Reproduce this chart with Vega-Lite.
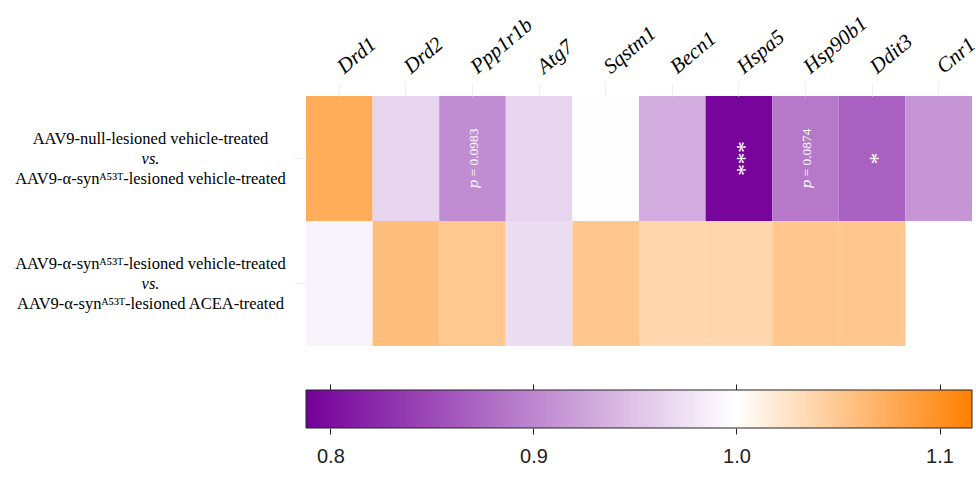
{
  "$schema": "https://vega.github.io/schema/vega-lite/v6.json",
  "background": "white",
  "padding": {"left": 14, "top": 12, "right": 5, "bottom": 5},
  "spacing": 37,
  "datasets": {
    "cells": [
      {"gene": "Drd1", "comparison": "AAV9-null-lesioned vehicle-treated|AAV9-α-synᴬ⁵³ᵀ-lesioned vehicle-treated", "ratio": 1.075},
      {"gene": "Drd2", "comparison": "AAV9-null-lesioned vehicle-treated|AAV9-α-synᴬ⁵³ᵀ-lesioned vehicle-treated", "ratio": 0.964},
      {"gene": "Ppp1r1b", "comparison": "AAV9-null-lesioned vehicle-treated|AAV9-α-synᴬ⁵³ᵀ-lesioned vehicle-treated", "ratio": 0.905},
      {"gene": "Atg7", "comparison": "AAV9-null-lesioned vehicle-treated|AAV9-α-synᴬ⁵³ᵀ-lesioned vehicle-treated", "ratio": 0.964},
      {"gene": "Sqstm1", "comparison": "AAV9-null-lesioned vehicle-treated|AAV9-α-synᴬ⁵³ᵀ-lesioned vehicle-treated", "ratio": 0.998},
      {"gene": "Becn1", "comparison": "AAV9-null-lesioned vehicle-treated|AAV9-α-synᴬ⁵³ᵀ-lesioned vehicle-treated", "ratio": 0.931},
      {"gene": "Hspa5", "comparison": "AAV9-null-lesioned vehicle-treated|AAV9-α-synᴬ⁵³ᵀ-lesioned vehicle-treated", "ratio": 0.792},
      {"gene": "Hsp90b1", "comparison": "AAV9-null-lesioned vehicle-treated|AAV9-α-synᴬ⁵³ᵀ-lesioned vehicle-treated", "ratio": 0.889},
      {"gene": "Ddit3", "comparison": "AAV9-null-lesioned vehicle-treated|AAV9-α-synᴬ⁵³ᵀ-lesioned vehicle-treated", "ratio": 0.869},
      {"gene": "Cnr1", "comparison": "AAV9-null-lesioned vehicle-treated|AAV9-α-synᴬ⁵³ᵀ-lesioned vehicle-treated", "ratio": 0.912},
      {"gene": "Drd1", "comparison": "AAV9-α-synᴬ⁵³ᵀ-lesioned vehicle-treated|AAV9-α-synᴬ⁵³ᵀ-lesioned ACEA-treated", "ratio": 0.991},
      {"gene": "Drd2", "comparison": "AAV9-α-synᴬ⁵³ᵀ-lesioned vehicle-treated|AAV9-α-synᴬ⁵³ᵀ-lesioned ACEA-treated", "ratio": 1.059},
      {"gene": "Ppp1r1b", "comparison": "AAV9-α-synᴬ⁵³ᵀ-lesioned vehicle-treated|AAV9-α-synᴬ⁵³ᵀ-lesioned ACEA-treated", "ratio": 1.05},
      {"gene": "Atg7", "comparison": "AAV9-α-synᴬ⁵³ᵀ-lesioned vehicle-treated|AAV9-α-synᴬ⁵³ᵀ-lesioned ACEA-treated", "ratio": 0.972},
      {"gene": "Sqstm1", "comparison": "AAV9-α-synᴬ⁵³ᵀ-lesioned vehicle-treated|AAV9-α-synᴬ⁵³ᵀ-lesioned ACEA-treated", "ratio": 1.052},
      {"gene": "Becn1", "comparison": "AAV9-α-synᴬ⁵³ᵀ-lesioned vehicle-treated|AAV9-α-synᴬ⁵³ᵀ-lesioned ACEA-treated", "ratio": 1.037},
      {"gene": "Hspa5", "comparison": "AAV9-α-synᴬ⁵³ᵀ-lesioned vehicle-treated|AAV9-α-synᴬ⁵³ᵀ-lesioned ACEA-treated", "ratio": 1.037},
      {"gene": "Hsp90b1", "comparison": "AAV9-α-synᴬ⁵³ᵀ-lesioned vehicle-treated|AAV9-α-synᴬ⁵³ᵀ-lesioned ACEA-treated", "ratio": 1.052},
      {"gene": "Ddit3", "comparison": "AAV9-α-synᴬ⁵³ᵀ-lesioned vehicle-treated|AAV9-α-synᴬ⁵³ᵀ-lesioned ACEA-treated", "ratio": 1.052}
    ],
    "pvals": [
      {"gene": "Ppp1r1b", "comparison": "AAV9-null-lesioned vehicle-treated|AAV9-α-synᴬ⁵³ᵀ-lesioned vehicle-treated", "note": "𝑝 = 0.0983"},
      {"gene": "Hsp90b1", "comparison": "AAV9-null-lesioned vehicle-treated|AAV9-α-synᴬ⁵³ᵀ-lesioned vehicle-treated", "note": "𝑝 = 0.0874"}
    ],
    "stars": [
      {"gene": "Hspa5", "comparison": "AAV9-null-lesioned vehicle-treated|AAV9-α-synᴬ⁵³ᵀ-lesioned vehicle-treated", "note": "***"},
      {"gene": "Ddit3", "comparison": "AAV9-null-lesioned vehicle-treated|AAV9-α-synᴬ⁵³ᵀ-lesioned vehicle-treated", "note": "*"}
    ],
    "bar": [{"lo": 0.788, "hi": 1.116}]
  },
  "config": {"view": {"stroke": null}},
  "vconcat": [
    {
      "width": 666,
      "height": 250,
      "resolve": {"axis": {"y": "independent"}},
      "encoding": {
        "x": {
          "field": "gene", "type": "nominal",
          "sort": ["Drd1", "Drd2", "Ppp1r1b", "Atg7", "Sqstm1", "Becn1", "Hspa5", "Hsp90b1", "Ddit3", "Cnr1"],
          "scale": {"paddingInner": 0, "paddingOuter": 0},
          "axis": {
            "orient": "top", "title": null, "domain": false,
            "tickColor": "#eeeeee", "tickSize": 13,
            "labelAngle": -40, "labelAlign": "left", "labelBaseline": "alphabetic",
            "labelPadding": 9, "labelOffset": 5,
            "labelFont": "Liberation Serif, DejaVu Serif", "labelFontStyle": "italic",
            "labelFontSize": 21, "labelColor": "#000000"
          }
        }
      },
      "layer": [
        {
          "data": {"name": "cells"},
          "mark": {"type": "rect"},
          "encoding": {
            "y": {
              "field": "comparison", "type": "nominal",
              "sort": ["AAV9-null-lesioned vehicle-treated|AAV9-α-synᴬ⁵³ᵀ-lesioned vehicle-treated", "AAV9-α-synᴬ⁵³ᵀ-lesioned vehicle-treated|AAV9-α-synᴬ⁵³ᵀ-lesioned ACEA-treated"],
              "scale": {"paddingInner": 0, "paddingOuter": 0},
              "axis": {
                "orient": "left", "title": null, "domain": false,
                "tickColor": "#eeeeee", "tickSize": 12,
                "labelExpr": "split(datum.label, '|')",
                "labelAlign": "center", "labelBaseline": "middle",
                "labelPadding": 144, "labelLineHeight": 40, "labelOffset": -20,
                "labelFont": "Liberation Serif, DejaVu Serif", "labelFontSize": 16.5,
                "labelColor": "#000000", "labelLimit": 400
              }
            },
            "color": {
              "field": "ratio", "type": "quantitative",
              "scale": {"domain": [0.788, 1.0, 1.116], "range": ["#74009A", "#ffffff", "#FF8000"], "interpolate": "rgb"},
              "legend": null
            }
          }
        },
        {
          "data": {"name": "pvals"},
          "mark": {"type": "text", "angle": 270, "color": "white", "font": "Liberation Serif, DejaVu Serif", "fontSize": 13.5, "align": "center", "baseline": "middle", "dy": 1},
          "encoding": {
            "y": {
              "field": "comparison", "type": "nominal",
              "axis": {
                "orient": "left", "title": null, "domain": false,
                "tickColor": "#eeeeee", "tickSize": 12,
                "labelExpr": "'vs.'",
                "labelAlign": "center", "labelBaseline": "middle",
                "labelPadding": 144,
                "labelFont": "Liberation Serif, DejaVu Serif", "labelFontStyle": "italic", "labelFontSize": 16.5,
                "labelColor": "#000000", "labelLimit": 400
              }
            },
            "text": {"field": "note"}
          }
        },
        {
          "data": {"name": "stars"},
          "mark": {"type": "text", "angle": 270, "color": "white", "font": "Liberation Serif, DejaVu Serif", "fontSize": 23, "align": "center", "baseline": "middle", "dy": 6},
          "encoding": {
            "y": {"field": "comparison", "type": "nominal", "axis": null},
            "text": {"field": "note"}
          }
        }
      ]
    },
    {
      "width": 666,
      "height": 38,
      "data": {"name": "bar"},
      "encoding": {
        "x": {
          "field": "lo", "type": "quantitative",
          "scale": {"domain": [0.788, 1.116], "nice": false, "zero": false},
          "axis": {
            "orient": "bottom", "title": null, "domain": false,
            "values": [0.8, 0.9, 1.0, 1.1], "format": ".1f",
            "tickColor": "#222222", "tickSize": 6,
            "labelFont": "Liberation Sans", "labelFontSize": 20, "labelColor": "#222222",
            "labelPadding": 12, "grid": false
          }
        },
        "y": {"datum": 0, "type": "quantitative", "scale": {"domain": [0, 1]}, "axis": null},
        "y2": {"datum": 1}
      },
      "layer": [
        {
          "mark": {
            "type": "rect", "stroke": "#222222", "strokeWidth": 1,
            "color": {
              "gradient": "linear", "x1": 0, "y1": 0, "x2": 1, "y2": 0,
              "stops": [
                {"offset": 0, "color": "#74009A"},
                {"offset": 0.6463, "color": "#ffffff"},
                {"offset": 1, "color": "#FF8000"}
              ]
            }
          },
          "encoding": {"x2": {"field": "hi"}}
        },
        {
          "mark": {"type": "rule", "opacity": 0},
          "encoding": {
            "x": {
              "field": "lo", "type": "quantitative",
              "axis": {
                "orient": "top", "title": null, "domain": false, "labels": false,
                "values": [0.8, 0.9, 1.0, 1.1],
                "tickColor": "#222222", "tickSize": 6, "grid": false
              }
            }
          }
        }
      ]
    }
  ]
}
